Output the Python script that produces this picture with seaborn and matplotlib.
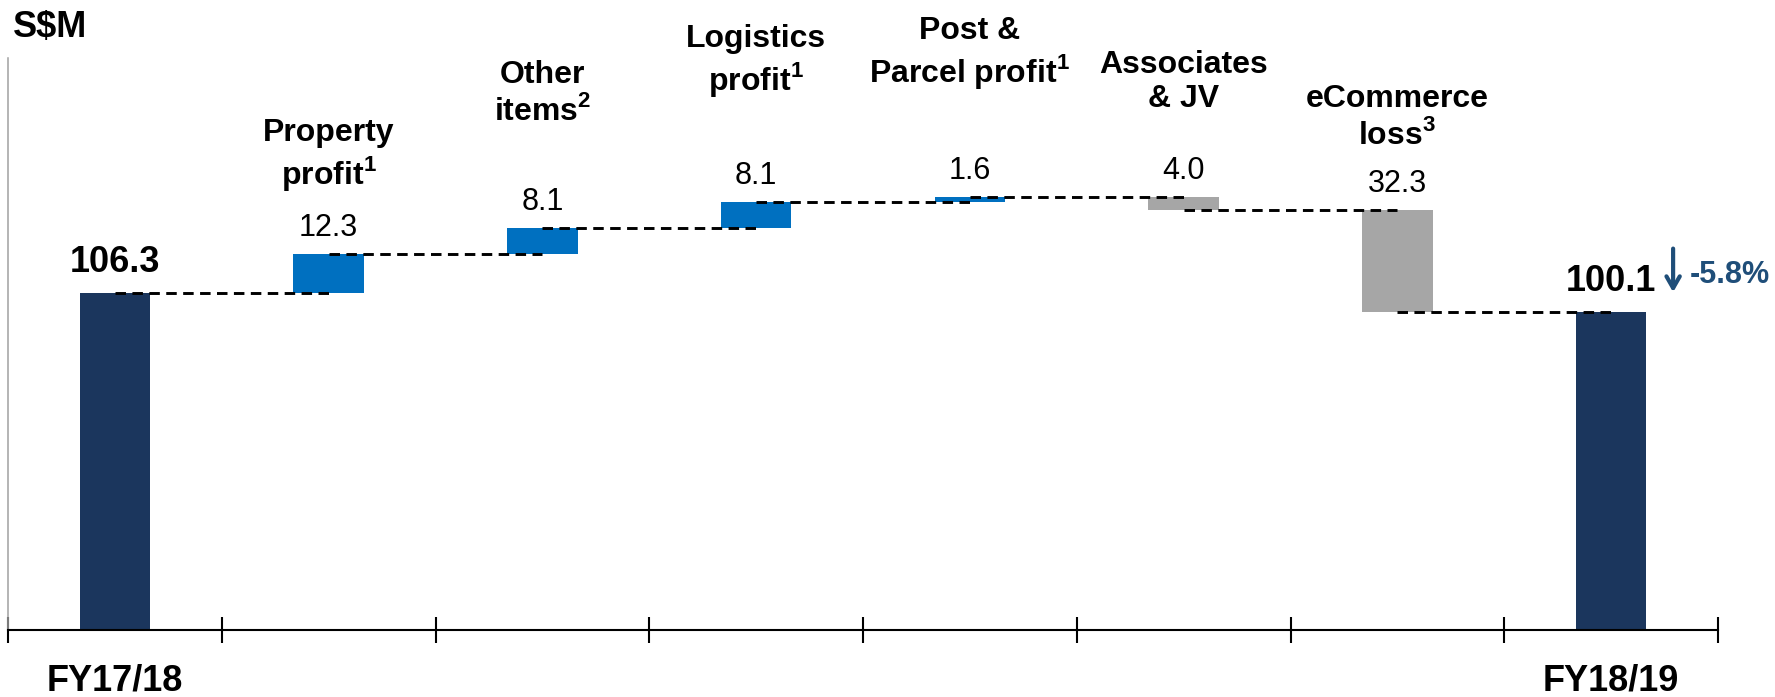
import numpy as np
import pandas as pd
import matplotlib
matplotlib.use("Agg")
import matplotlib.pyplot as plt
import seaborn as sns

# --- data -------------------------------------------------------------
steps = ["FY17/18", "Property", "Other", "Logistics", "Post",
         "Associates", "eCommerce", "FY18/19"]
step_names = ["FY17/18", "Property\nprofit$^{\\mathbf{1}}$", "Other\nitems$^{\\mathbf{2}}$",
              "Logistics\nprofit$^{\\mathbf{1}}$", "Post &\nParcel profit$^{\\mathbf{1}}$",
              "Associates\n& JV", "eCommerce\nloss$^{\\mathbf{3}}$", "FY18/19"]
changes = [106.3, 12.3, 8.1, 8.1, 1.6, -4.0, -32.3, 100.1]
kinds = ["total", "gain", "gain", "gain", "gain", "loss", "loss", "total"]
change_pct = "-5.8%"

# --- style ------------------------------------------------------------
colors = {"total": "#1B365D", "gain": "#0070C0", "loss": "#A6A6A6"}
arrow_color = "#1F4E79"
# distance (pixels) from bar top to the bottom of each category caption
name_pad = [None, 61, 101, 103, 106, 83, 59, None]

sns.set_theme(style="white")
plt.rcParams["font.family"] = ["Liberation Sans", "DejaVu Sans"]
plt.rcParams["mathtext.fontset"] = "custom"
plt.rcParams["mathtext.rm"] = "Liberation Sans"
plt.rcParams["mathtext.bf"] = "Liberation Sans:bold"

# waterfall geometry from the changes
lows, highs, levels = [], [], []
run = 0.0
for val, kind in zip(changes, kinds):
    if kind == "total":
        lo, hi = 0.0, val
        run = val
    else:
        lo, hi = sorted([run, run + val])
        run += val
    lows.append(lo)
    highs.append(hi)
    levels.append(run)

df = pd.DataFrame({"step": steps,
                   "height": np.array(highs) - np.array(lows),
                   "low": lows})

fig = plt.figure(figsize=(17.75, 6.97), dpi=100)
ax = fig.add_axes([8 / 1775, 67 / 697, 1710 / 1775, 572 / 697])

sns.barplot(data=df, x="step", y="height", order=steps, color=colors["gain"],
            width=0.33, saturation=1, errorbar=None, ax=ax)
for patch, lo, kind in zip(ax.patches, lows, kinds):
    patch.set_y(lo)
    patch.set_facecolor(colors[kind])
    patch.set_edgecolor("none")

# dashed connectors between bars
for i in range(len(steps) - 1):
    ax.plot([i, i + 1], [levels[i], levels[i]], color="black", lw=2.1,
            ls=(0, (3.6, 2.2)), zorder=5)

# value and category labels
for i, (val, kind) in enumerate(zip(changes, kinds)):
    if kind == "total":
        ax.annotate(f"{val:.1f}", (i, highs[i]), xytext=(0, 13),
                    textcoords="offset pixels", ha="center", va="bottom",
                    fontsize=26, fontweight="bold", color="black")
    else:
        ax.annotate(f"{abs(val):.1f}", (i, highs[i]), xytext=(0, 11),
                    textcoords="offset pixels", ha="center", va="bottom",
                    fontsize=22, color="black")
        ax.annotate(step_names[i], (i, highs[i]), xytext=(0, name_pad[i]),
                    textcoords="offset pixels", ha="center", va="bottom",
                    multialignment="center", fontsize=23, fontweight="bold",
                    color="black")

# change arrow next to the closing bar
last = len(steps) - 1
ax.annotate("", xy=(last + 0.29, changes[-1] + 5.5),
            xytext=(last + 0.29, changes[-1] + 21),
            arrowprops=dict(arrowstyle="->,head_length=0.7,head_width=0.4",
                            color=arrow_color, lw=3))
ax.text(last + 0.37, changes[-1] + 9.3, change_pct, ha="left", va="baseline",
        fontsize=22, fontweight="bold", color=arrow_color)

# axes
ax.set_xlim(-0.5, len(steps) - 0.5)
ax.set_ylim(0, 180.3)
ax.set_yticks([])
ax.set_xlabel("")
ax.set_ylabel("")
ax.set_xticks(np.arange(-0.5, len(steps), 1))
ax.set_xticklabels([])
ax.set_xticks(range(len(steps)), minor=True)
ax.set_xticklabels([n if k == "total" else "" for n, k in zip(step_names, kinds)],
                   minor=True, fontsize=26, fontweight="bold")
ax.tick_params(axis="x", which="major", direction="inout", length=19,
               width=1.5, color="black", bottom=True)
ax.tick_params(axis="x", which="minor", length=0, pad=24, labelcolor="black")

for side in ["top", "right"]:
    ax.spines[side].set_visible(False)
ax.spines["bottom"].set_color("black")
ax.spines["bottom"].set_linewidth(1.5)
ax.spines["left"].set_color("#A0A0A0")
ax.spines["left"].set_linewidth(1.1)

fig.text(13 / 1775, 1 - 37 / 697, "S$M", ha="left", va="baseline",
         fontsize=26, fontweight="bold", color="black")

fig.savefig("out.png", dpi=100)
